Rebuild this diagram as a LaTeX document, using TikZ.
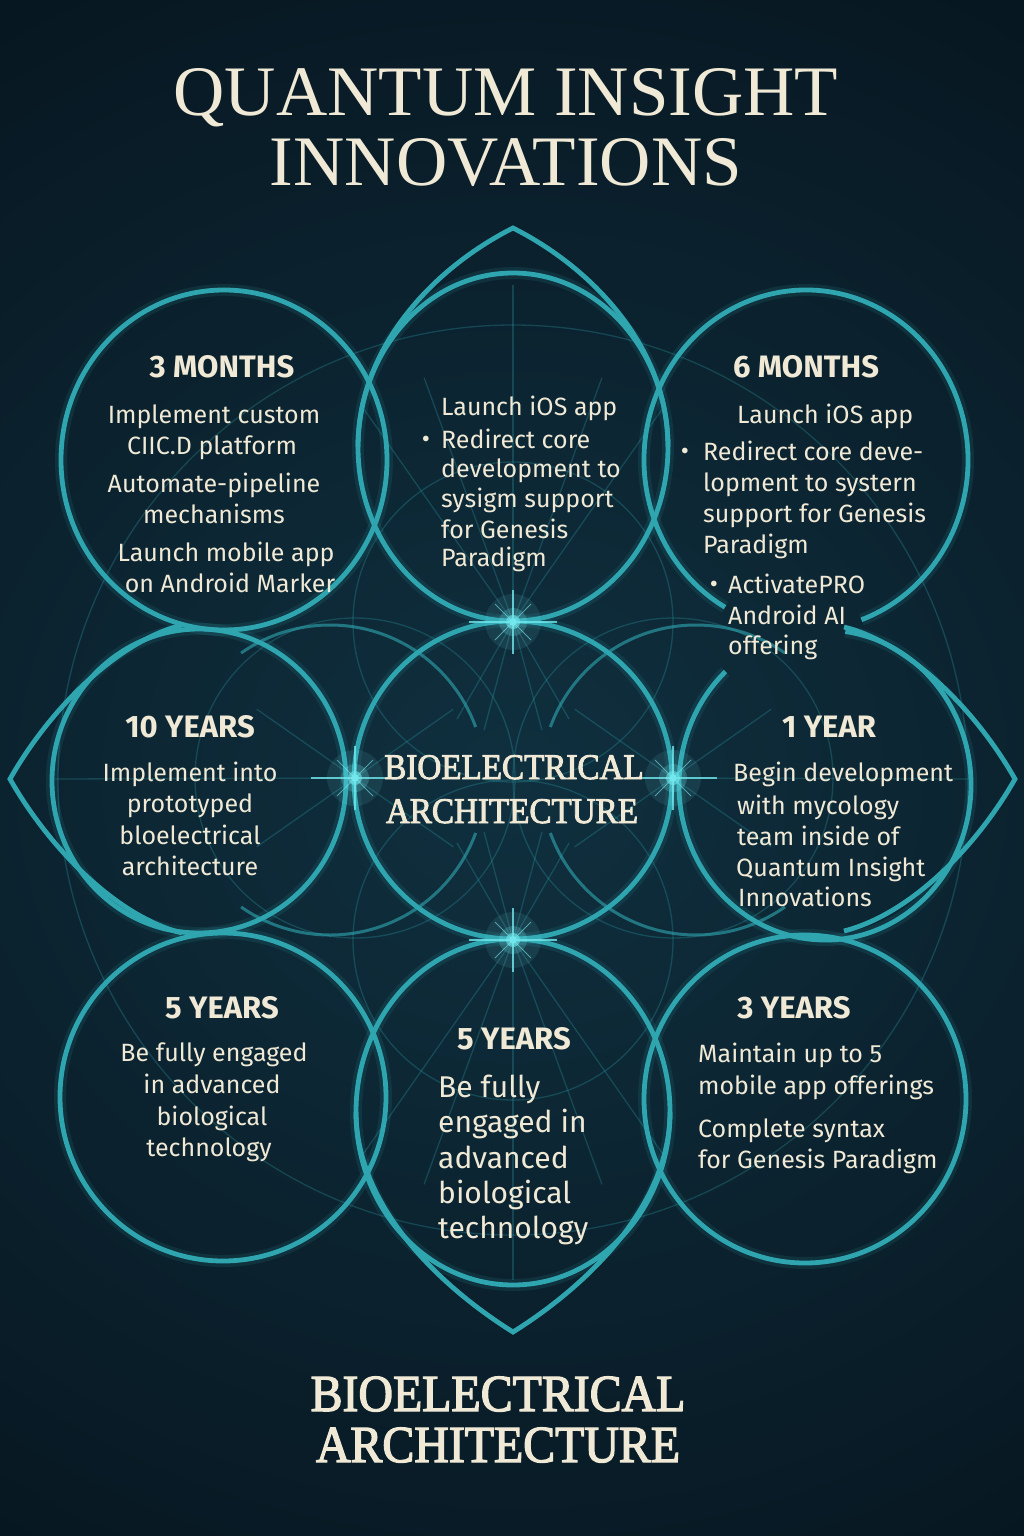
\documentclass[tikz,border=0pt]{standalone}
\usepackage{fontspec}
\setmainfont{Fira Sans}
\newfontfamily\qititle{Liberation Serif}
\newfontfamily\qilabel{Liberation Serif}[FakeStretch=0.92,FakeBold=2.5]
\definecolor{bgdark}{HTML}{05111A}
\definecolor{bgmid}{HTML}{10303F}
\definecolor{qteal}{HTML}{2EA5AF}
\definecolor{qglow}{HTML}{72E8EE}
\definecolor{qcream}{HTML}{EFE9D6}
\newcommand\qistar[1]{%
  \fill[qglow,opacity=.10] (#1) circle (28);
  \fill[qglow,opacity=.22] (#1) circle (14);
  \fill[qglow,opacity=.6] (#1) circle (7);
  \fill[qglow] (#1) circle (3.8);
  \draw[qglow,line width=1.2pt,opacity=.8] ([xshift=-44pt]#1) -- ([xshift=44pt]#1);
  \draw[qglow,line width=1.2pt,opacity=.8] ([yshift=-32pt]#1) -- ([yshift=32pt]#1);
  \draw[qglow,line width=.9pt,opacity=.6] ([shift={(-18,-18)}]#1) -- ([shift={(18,18)}]#1);
  \draw[qglow,line width=.9pt,opacity=.6] ([shift={(-18,18)}]#1) -- ([shift={(18,-18)}]#1);
}
\begin{document}
\begin{tikzpicture}[x=1pt,y=-1pt,
  ring/.style={draw=qteal,line width=4.8pt},
  ringglow/.style={draw=qteal,line width=12pt,opacity=.13},
  ghost/.style={draw=qteal,line width=3pt,opacity=.62},
  faint/.style={draw=qteal,line width=1.3pt,opacity=.28},
  head/.style={text=qcream,inner sep=0pt,anchor=base,font=\fontsize{31}{36}\selectfont\bfseries},
  body/.style={text=qcream,inner sep=0pt,font=\fontsize{25}{31}\selectfont},
  bigbody/.style={text=qcream,inner sep=0pt,font=\fontsize{30}{35}\selectfont},
  titletext/.style={text=qcream,inner sep=0pt,anchor=base,font=\qititle\fontsize{71}{80}\selectfont},
  labeltext/.style={text=qcream,inner sep=0pt,anchor=base,font=\qilabel\fontsize{36}{44}\selectfont},
  biglabel/.style={text=qcream,inner sep=0pt,anchor=base,font=\qilabel\fontsize{52}{60}\selectfont},
]
\useasboundingbox (0,0) rectangle (1024,1536);
% background
\fill[bgdark] (0,0) rectangle (1024,1536);
\shade[inner color=bgmid,outer color=bgdark] (-700,-320) rectangle (1724,1880);

% star points
\coordinate (sT) at (513,622);
\coordinate (sL) at (355,778);
\coordinate (sR) at (673,778);
\coordinate (sB) at (513,940);

% faint network
\draw[faint] (513,780) circle (455);
\foreach \p in {sT,sL,sR,sB} \draw[faint] (\p) circle (160);
\draw[faint] (513,285) -- (sT);
\draw[faint] (sB) -- (513,1280);
\draw[faint] (55,779) -- (sL);
\draw[faint] (sR) -- (970,779);
\foreach \a in {60,75,105,120} \draw[faint] (sT) -- ++(\a:112);
\foreach \a in {240,255,285,300} \draw[faint] (sB) -- ++(\a:112);
\foreach \a in {-35,35,145,215} \draw[faint] (sL) -- ++(\a:120);
\foreach \a in {-35,35,145,215} \draw[faint] (sR) -- ++(\a:120);
\foreach \a in {235,250,290,305} \draw[faint] (sT) -- ++(\a:260);
\foreach \a in {55,70,110,125} \draw[faint] (sB) -- ++(\a:260);

% ghost arcs
\draw[ghost] ([shift={(235:155)}]330,780) arc[start angle=235,end angle=340,radius=155];
\draw[ghost] ([shift={(20:155)}]330,780) arc[start angle=20,end angle=125,radius=155];
\draw[ghost] ([shift={(200:155)}]696,780) arc[start angle=200,end angle=305,radius=155];
\draw[ghost] ([shift={(55:155)}]696,780) arc[start angle=55,end angle=160,radius=155];

% main rings
\foreach \cx/\cy/\rx/\ry in {224/460/163/170, 513/447/155/174, 199/781/147/152, 513/780/159/159, 223/1097/163/164, 513/1112/157/173, 805/1099/161/164} {
  \draw[ringglow] (\cx,\cy) ellipse [x radius=\rx, y radius=\ry];
  \draw[ring] (\cx,\cy) ellipse [x radius=\rx, y radius=\ry];
}
% 6 months ring (open behind the text)
\draw[ringglow] ([shift={(120:162 and 170)}]806,460) arc[start angle=120,end angle=430,x radius=162,y radius=170];
\draw[ring] ([shift={(120:162 and 170)}]806,460) arc[start angle=120,end angle=430,x radius=162,y radius=170];
% 1 year ring
\draw[ringglow] ([shift={(278:146 and 155)}]825,785) arc[start angle=278,end angle=587,x radius=146,y radius=155];
\draw[ring] ([shift={(278:146 and 155)}]825,785) arc[start angle=278,end angle=587,x radius=146,y radius=155];

% pointed petals
\draw[ring] (358,447) .. controls (358,350) and (430,270) .. (513,228) .. controls (596,270) and (668,350) .. (668,447);
\draw[ring] (356,1112) .. controls (356,1200) and (430,1280) .. (513,1332) .. controls (596,1280) and (670,1200) .. (670,1112);
\draw[ring] (182,625) .. controls (115,642) and (48,712) .. (10,779) .. controls (48,846) and (115,916) .. (182,933);
\draw[ring] (844,627) .. controls (911,644) and (977,712) .. (1015,779) .. controls (977,846) and (911,914) .. (844,931);

% glowing stars
\qistar{sT}
\qistar{sL}
\qistar{sR}
\qistar{sB}

% title
\node[titletext] (title1) at (506,116) {QUANTUM INSIGHT};
\node[titletext] (title2) at (506,185) {INNOVATIONS};

% 3 months
\node[head] (h3m) at (222,377) {3 MONTHS};
\foreach \t/\xx/\yy [count=\i] in {Implement custom/214/423, CIIC.D platform/212/454, Automate-pipeline/214/492, mechanisms/214/523, Launch mobile app/226/561, on Android Marker/230/592}
  \node[body,anchor=base] (m3-\i) at (\xx,\yy) {\t};

% top centre
\foreach \t/\yy [count=\i] in {Launch iOS app/415, Redirect core/448, development to/477, sysigm support/507, for Genesis/538, Paradigm/566}
  \node[body,anchor=base west] (tc-\i) at (441,\yy) {\t};
\node[body,anchor=base] (tcb) at (426,447) {•};

% 6 months
\node[head] (h6m) at (806,377) {6 MONTHS};
\node[body,anchor=base west] (m6-0) at (737,423) {Launch iOS app};
\foreach \t/\yy [count=\i] in {Redirect core deve-/460, lopment to systern/491, support for Genesis/522, Paradigm/553}
  \node[body,anchor=base west] (m6-\i) at (703,\yy) {\t};
\node[body,anchor=base] (m6b1) at (685,459) {•};
\foreach \t/\yy [count=\i] in {ActivatePRO/593, Android AI/624, offering/654}
  \node[body,anchor=base west] (m6a-\i) at (728,\yy) {\t};
\node[body,anchor=base] (m6b2) at (714,592) {•};

% 10 years
\node[head] (h10y) at (190,737) {10 YEARS};
\foreach \t/\yy [count=\i] in {Implement into/781, prototyped/812, bloelectrical/844, architecture/875}
  \node[body,anchor=base] (y10-\i) at (190,\yy) {\t};

% centre
\node[labeltext] (cen1) at (514,779) {BIOELECTRICAL};
\node[labeltext] (cen2) at (512,823) {ARCHITECTURE};

% 1 year
\node[head] (h1y) at (829,737) {1 YEAR};
\foreach \t/\xx/\yy [count=\i] in {Begin development/733/781, with mycology/737/814, team inside of/737/845, Quantum Insight/736/876, Innovations/738/906}
  \node[body,anchor=base west] (y1-\i) at (\xx,\yy) {\t};

% 5 years left
\node[head] (h5l) at (222,1018) {5 YEARS};
\foreach \t/\xx/\yy [count=\i] in {Be fully engaged/214/1061, in advanced/212/1093, biological/212/1125, technology/209/1156}
  \node[body,anchor=base] (y5l-\i) at (\xx,\yy) {\t};

% 5 years centre
\node[head] (h5c) at (514,1049) {5 YEARS};
\foreach \t/\yy [count=\i] in {Be fully/1097, engaged in/1132, advanced/1168, biological/1203, technology/1238}
  \node[bigbody,anchor=base west] (y5c-\i) at (438,\yy) {\t};

% 3 years
\node[head] (h3y) at (794,1018) {3 YEARS};
\foreach \t/\yy [count=\i] in {Maintain up to 5/1062, mobile app offerings/1094, Complete syntax/1137, for Genesis Paradigm/1168}
  \node[body,anchor=base west] (y3-\i) at (698,\yy) {\t};

% bottom label
\node[biglabel] (foot1) at (498,1411) {BIOELECTRICAL};
\node[biglabel] (foot2) at (498,1462) {ARCHITECTURE};
\end{tikzpicture}
\end{document}
